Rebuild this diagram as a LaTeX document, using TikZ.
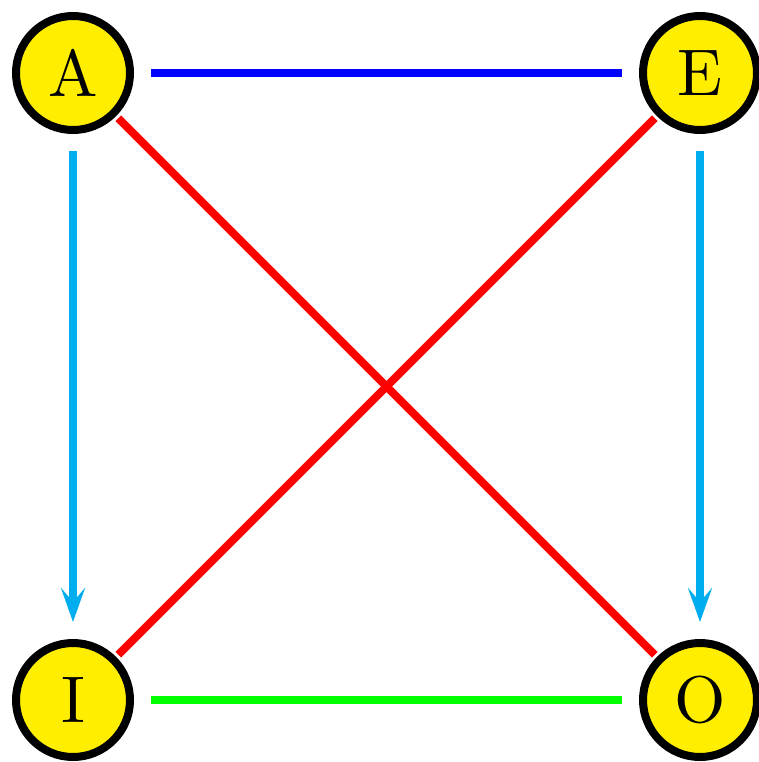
\documentclass[tikz,border=0pt]{standalone}
\usepackage{fontspec}
\usepackage{graphicx}
\usetikzlibrary{arrows.meta}
\definecolor{vyellow}{RGB}{255,238,0}
\definecolor{vcyan}{RGB}{0,174,239}
\definecolor{vred}{RGB}{255,0,0}
\definecolor{vblue}{RGB}{0,0,255}
\definecolor{vgreen}{RGB}{0,255,0}
\newcommand{\biglabel}[1]{\scalebox{6.6}{#1}}
\begin{document}
\begin{tikzpicture}[x=1pt,y=-1pt,
  vertex/.style={circle,draw=black,line width=8pt,fill=vyellow,minimum size=114pt,inner sep=0pt},
  edge/.style={line width=8pt},
  gapped/.style={shorten <=17pt,shorten >=17pt},
  arr/.style={-{Stealth[length=34pt,width=24pt,inset=14pt]}}]
\useasboundingbox (0,0) rectangle (759,762);
\node[vertex] (A) at (73,73) {\biglabel{A}};
\node[vertex] (E) at (700,73) {\biglabel{E}};
\node[vertex] (I) at (73,700) {\biglabel{I}};
\node[vertex] (O) at (700,700) {\biglabel{O}};
\draw[edge,vblue,gapped] (A) -- (E);
\draw[edge,vgreen,gapped] (I) -- (O);
\draw[edge,vcyan,gapped,arr] (A) -- (I);
\draw[edge,vcyan,gapped,arr] (E) -- (O);
\draw[edge,vred,shorten <=3pt,shorten >=3pt] (A) -- (O);
\draw[edge,vred,shorten <=3pt,shorten >=3pt] (E) -- (I);
\end{tikzpicture}
\end{document}
